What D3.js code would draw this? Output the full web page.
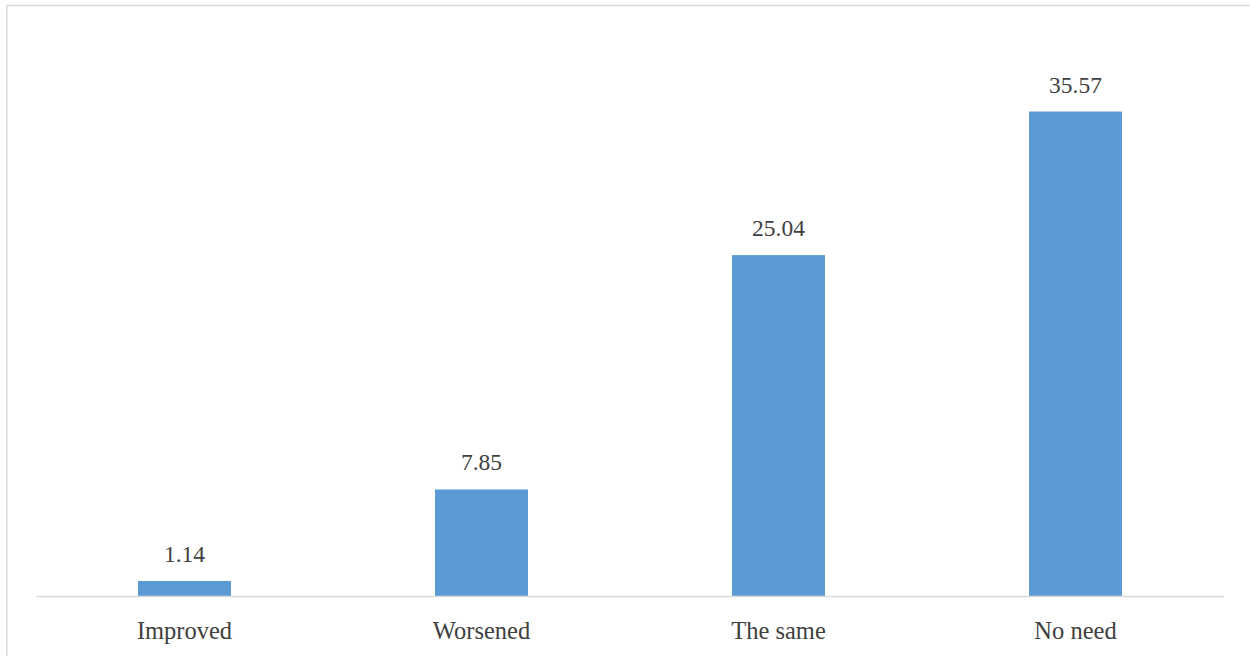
<!DOCTYPE html>
<html>
<head>
<meta charset="utf-8">
<script src="https://cdn.jsdelivr.net/npm/d3@7"></script>
<style>
  html, body { margin: 0; padding: 0; background: #fff; }
  svg { display: block; }
  .lbl { font-family: "Liberation Serif", "Times New Roman", "DejaVu Serif", serif; }
</style>
</head>
<body>
<svg id="chart" width="1250" height="656"></svg>
<script>
const categories = ["Improved", "Worsened", "The same", "No need"];
const values = [1.14, 7.85, 25.04, 35.57];

const svg = d3.select("#chart");
const W = 1250, H = 656;
const margin = { left: 36, right: 26, top: 51, bottom: 60 };
const plotBottom = 596.5;

// outer chart border (extends beyond window on right/bottom)
svg.append("rect")
  .attr("x", 6.75).attr("y", 5.5)
  .attr("width", 1400).attr("height", 800)
  .attr("fill", "none")
  .attr("stroke", "#d9d9d9")
  .attr("stroke-width", 1.5);

const x = d3.scaleBand()
  .domain(categories)
  .range([margin.left, W - margin.right])
  .padding(0);

const y = d3.scaleLinear()
  .domain([0, 40])
  .range([plotBottom, plotBottom - 40 * 13.635]);

const barFrac = 0.313;

svg.append("g").selectAll("rect")
  .data(values)
  .join("rect")
  .attr("x", (d, i) => x(categories[i]) + x.bandwidth() * (1 - barFrac) / 2)
  .attr("width", x.bandwidth() * barFrac)
  .attr("y", d => y(d))
  .attr("height", d => y(0) - y(d))
  .attr("fill", "#5b9bd5");

// value labels
svg.append("g").selectAll("text")
  .data(values)
  .join("text")
  .attr("class", "lbl")
  .attr("x", (d, i) => x(categories[i]) + x.bandwidth() / 2)
  .attr("y", d => y(d) - 19)
  .attr("text-anchor", "middle")
  .style("font-size", "23.5px")
  .attr("fill", "#404040")
  .text(d => d.toFixed(2));

// x axis
const xAxis = d3.axisBottom(x).tickSize(0).tickPadding(0);
const gx = svg.append("g")
  .attr("transform", `translate(0,${plotBottom})`)
  .call(xAxis)
  .attr("font-family", null)
  .attr("font-size", null);
gx.select(".domain").attr("stroke", "#d9d9d9").attr("stroke-width", 1.5)
  .attr("d", `M${margin.left},0H${W - margin.right}`);
gx.selectAll(".tick text")
  .attr("class", "lbl")
  .attr("dy", 0)
  .attr("y", 42.5)
  .style("font-size", "24.5px")
  .attr("fill", "#404040");
</script>
</body>
</html>
